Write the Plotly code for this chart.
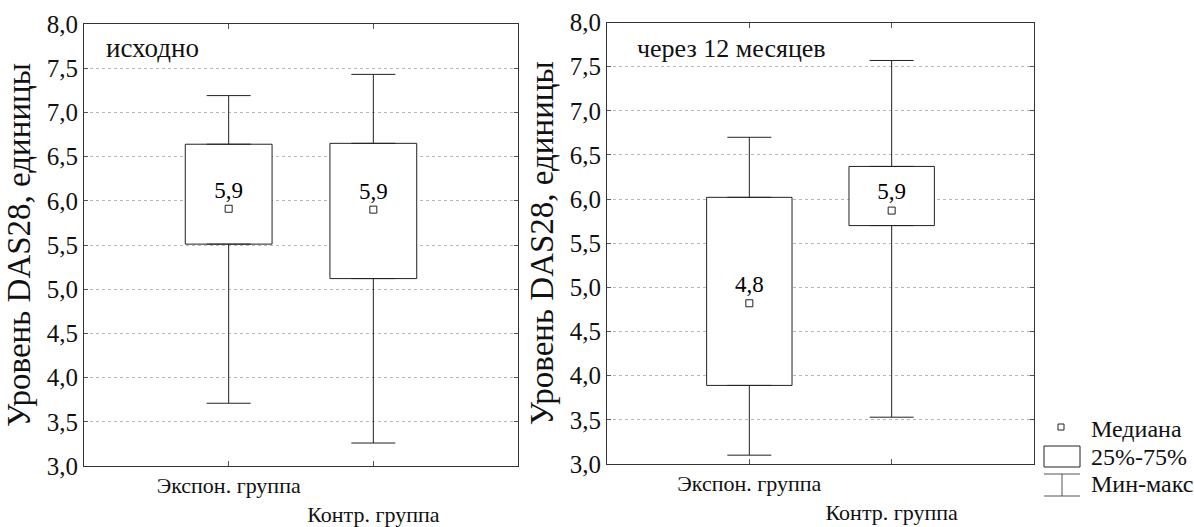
import plotly.graph_objects as go

# ---------------- data ----------------
groups = ["Экспон. группа", "Контр. группа"]
tick_text = ["Экспон. группа", "<br>Контр. группа"]

base_min = [3.71, 3.26]
base_q1 = [5.51, 5.12]
base_median = [5.91, 5.90]
base_q3 = [6.64, 6.65]
base_max = [7.19, 7.43]
base_label = ["5,9", "5,9"]

m12_min = [3.10, 3.53]
m12_q1 = [3.89, 5.70]
m12_median = [4.82, 5.87]
m12_q3 = [6.02, 6.37]
m12_max = [6.70, 7.57]
m12_label = ["4,8", "5,9"]

panel_titles = ["исходно", "через 12 месяцев"]
y_title = "Уровень DAS28, единицы"
y_ticks = [3.0, 3.5, 4.0, 4.5, 5.0, 5.5, 6.0, 6.5, 7.0, 7.5, 8.0]
legend_items = ["Медиана", "25%-75%", "Мин-макс"]

FONT = "Liberation Serif, Times New Roman, serif"
INK = "#222222"

fig = go.Figure()


def add_panel(xa, ya, mn, q1, med, q3, mx, labels):
    xref = "x" if xa == 1 else f"x{xa}"
    yref = "y" if ya == 1 else f"y{ya}"
    # box 25%-75%
    fig.add_trace(go.Bar(
        x=groups, y=[b - a for a, b in zip(q1, q3)], base=q1, width=0.6,
        marker=dict(color="white", line=dict(color=INK, width=1)),
        xaxis=xref, yaxis=yref, showlegend=False, hoverinfo="skip"))
    # upper whisker
    fig.add_trace(go.Scatter(
        x=groups, y=q3, mode="markers", marker=dict(size=1, opacity=0),
        error_y=dict(type="data", symmetric=False,
                     array=[b - a for a, b in zip(q3, mx)], arrayminus=[0, 0],
                     width=22, thickness=1, color=INK),
        xaxis=xref, yaxis=yref, showlegend=False, hoverinfo="skip"))
    # lower whisker
    fig.add_trace(go.Scatter(
        x=groups, y=q1, mode="markers", marker=dict(size=1, opacity=0),
        error_y=dict(type="data", symmetric=False,
                     array=[0, 0], arrayminus=[a - b for a, b in zip(q1, mn)],
                     width=22, thickness=1, color=INK),
        xaxis=xref, yaxis=yref, showlegend=False, hoverinfo="skip"))
    # median marker + label
    fig.add_trace(go.Scatter(
        x=groups, y=med, mode="markers+text", text=labels,
        textposition="top center",
        textfont=dict(family=FONT, size=23, color="black"),
        marker=dict(symbol="square-open", size=7, color=INK, line=dict(width=1)),
        xaxis=xref, yaxis=yref, showlegend=False))


add_panel(1, 1, base_min, base_q1, base_median, base_q3, base_max, base_label)
add_panel(2, 2, m12_min, m12_q1, m12_median, m12_q3, m12_max, m12_label)

axis_common = dict(
    showline=True, linecolor="#333333", linewidth=1, mirror="ticks",
    automargin=False,
)
xcommon = dict(axis_common, type="category", range=[-1, 2], tickvals=groups,
               ticktext=tick_text, ticks="inside", ticklen=5, tickcolor="#555",
               tickfont=dict(family=FONT, size=22, color="#111"),
               showgrid=False, ticklabelstandoff=0, tickangle=0)
ycommon = dict(axis_common, range=[3, 8], tickvals=y_ticks, tickformat=".1f",
               ticks="inside", ticklen=4, tickcolor="#555",
               tickfont=dict(family=FONT, size=25, color="#111"),
               showgrid=True, gridcolor="#b8b8b8", griddash="dot", gridwidth=1,
               zeroline=False,
               title=dict(text=y_title, font=dict(family=FONT, size=33, color="#111"),
                          standoff=6))

fig.update_layout(
    width=1194, height=527,
    margin=dict(l=0, r=0, t=0, b=0, autoexpand=False),
    paper_bgcolor="white", plot_bgcolor="white",
    separators=", ",
    barmode="overlay",
    xaxis=dict(xcommon, domain=[84 / 1194, 518 / 1194], anchor="y"),
    yaxis=dict(ycommon, domain=[1 - 466 / 527, 1 - 24 / 527], anchor="x"),
    xaxis2=dict(xcommon, domain=[607 / 1194, 1034 / 1194], anchor="y2"),
    yaxis2=dict(ycommon, domain=[1 - 464 / 527, 1 - 22.5 / 527], anchor="x2"),
    font=dict(family=FONT, color="#111"),
)

# panel titles
fig.add_annotation(text=panel_titles[0], xref="x domain", yref="y domain",
                   x=0.046, y=0.946, xanchor="left", yanchor="middle",
                   showarrow=False, font=dict(family=FONT, size=27, color="#111"))
fig.add_annotation(text=panel_titles[1], xref="x2 domain", yref="y2 domain",
                   x=0.066, y=0.942, xanchor="left", yanchor="middle",
                   showarrow=False, font=dict(family=FONT, size=26, color="#111"))


# legend (drawn manually)
def px(x):
    return x / 1194


def py(y):
    return 1 - y / 527


fig.add_shape(type="rect", xref="paper", yref="paper",
              x0=px(1058), x1=px(1064), y0=py(430), y1=py(424),
              line=dict(color=INK, width=1), fillcolor="white")
fig.add_shape(type="rect", xref="paper", yref="paper",
              x0=px(1044), x1=px(1080), y0=py(467), y1=py(446),
              line=dict(color=INK, width=1), fillcolor="white")
for yy in (474, 496):
    fig.add_shape(type="line", xref="paper", yref="paper",
                  x0=px(1044), x1=px(1080), y0=py(yy), y1=py(yy),
                  line=dict(color="#555", width=1))
fig.add_shape(type="line", xref="paper", yref="paper",
              x0=px(1062), x1=px(1062), y0=py(474), y1=py(496),
              line=dict(color="#555", width=1))
for txt, yy in zip(legend_items, (429, 457, 484)):
    fig.add_annotation(text=txt, xref="paper", yref="paper", x=px(1089), y=py(yy),
                       xanchor="left", yanchor="middle", showarrow=False,
                       font=dict(family=FONT, size=24, color="#111"))

fig.write_html("out.html", config={"displayModeBar": False},
               post_script="document.body.style.margin='0';")
